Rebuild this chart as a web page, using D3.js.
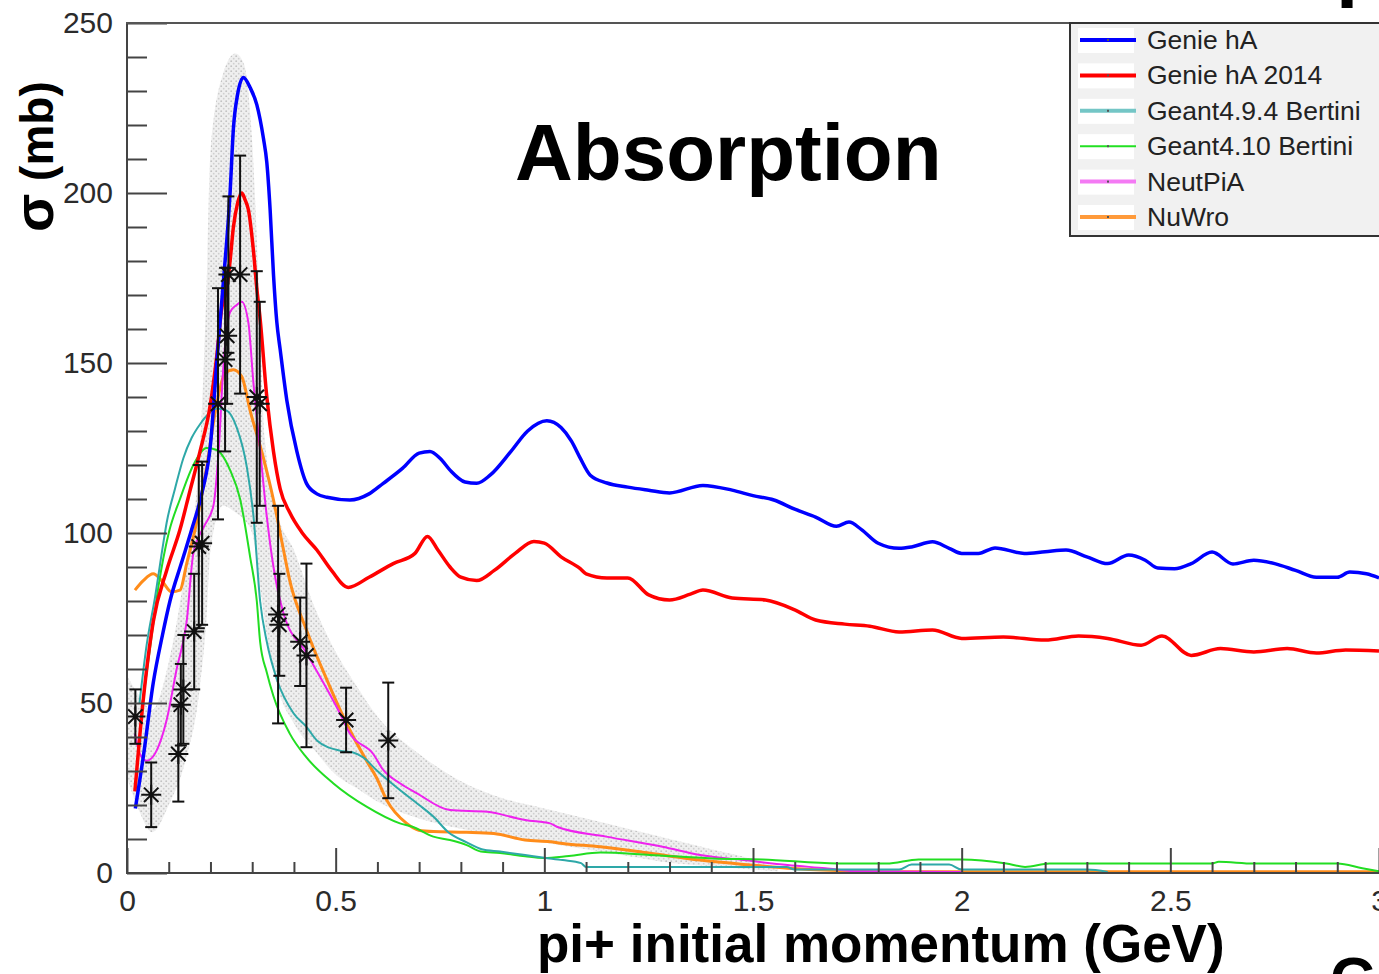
<!DOCTYPE html>
<html>
<head>
<meta charset="utf-8">
<script src="https://cdn.jsdelivr.net/npm/d3@7"></script>
<style>
  html, body { margin: 0; padding: 0; background: #fff; }
  svg { display: block; font-family: "Liberation Sans", Arial, Helvetica, sans-serif; }
  .axis path, .axis line { stroke: #444; stroke-width: 2; fill: none; }
  .axis text { fill: #2b2b2b; font-size: 30px; }
</style>
</head>
<body>
<svg id="chart" width="1379" height="974"></svg>
<script>
// pi+ absorption cross section vs momentum, model curves + data with errors

var xTicks = [0, 0.5, 1, 1.5, 2, 2.5, 3]
var yTicks = [0, 50, 100, 150, 200, 250]

var seriesNames = ['Genie hA', 'Genie hA 2014', 'Geant4.9.4 Bertini', 'Geant4.10 Bertini', 'NeutPiA', 'NuWro']

// [momentum GeV, sigma mb]
var genieHA = [[0.02, 19], [0.04, 35], [0.063, 56], [0.085, 70], [0.103, 80], [0.13, 91], [0.155, 101], [0.18, 112],
  [0.2, 126], [0.215, 150], [0.231, 174], [0.247, 200], [0.255, 219], [0.265, 229], [0.279, 234], [0.295, 231],
  [0.311, 226], [0.327, 216], [0.335, 209], [0.343, 195], [0.351, 176], [0.359, 162], [0.367, 154], [0.383, 139],
  [0.407, 124], [0.43, 114.6], [0.455, 111.5], [0.479, 110.5], [0.534, 109.7], [0.58, 111.5], [0.614, 114.6],
  [0.66, 119], [0.7, 123.5], [0.726, 124], [0.75, 122], [0.774, 118.5], [0.81, 115], [0.838, 114.6], [0.87, 117],
  [0.92, 124], [0.96, 130], [1.006, 133], [1.04, 131], [1.065, 127], [1.086, 122], [1.11, 117], [1.15, 114.7],
  [1.2, 113.5], [1.25, 112.6], [1.3, 111.8], [1.38, 114], [1.45, 112.6], [1.5, 111], [1.55, 109.7], [1.6, 107],
  [1.65, 104.7], [1.7, 102], [1.73, 103.2], [1.76, 101], [1.8, 97], [1.85, 95.5], [1.88, 95.9], [1.93, 97.4],
  [1.97, 95.5], [2.0, 94], [2.04, 94], [2.08, 95.6], [2.15, 94], [2.2, 94.5], [2.25, 95], [2.3, 93], [2.35, 91],
  [2.4, 93.5], [2.44, 92], [2.47, 89.7], [2.51, 89.5], [2.55, 91], [2.6, 94.4], [2.65, 90.9], [2.7, 92],
  [2.75, 91], [2.8, 89], [2.85, 87], [2.9, 87], [2.93, 88.5], [2.97, 88], [3.0, 86.8]]

var genieHA2014 = [[0.019, 24], [0.039, 51], [0.063, 74], [0.095, 89], [0.127, 101], [0.15, 112], [0.175, 124],
  [0.2, 138], [0.215, 152], [0.227, 166], [0.239, 172], [0.247, 180], [0.255, 190], [0.265, 197], [0.275, 200],
  [0.283, 198], [0.291, 195], [0.303, 183], [0.311, 172], [0.319, 163], [0.335, 140], [0.351, 124], [0.367, 113],
  [0.39, 106], [0.42, 100], [0.455, 95], [0.49, 89], [0.53, 84], [0.58, 87], [0.638, 91], [0.69, 94], [0.72, 99],
  [0.745, 95], [0.774, 90], [0.8, 87], [0.838, 86], [0.88, 89], [0.93, 94], [0.975, 97.5], [1.0, 97], [1.04, 93],
  [1.086, 89.5], [1.1, 88], [1.15, 86.8], [1.2, 86.8], [1.25, 81.8], [1.3, 80.3], [1.35, 82], [1.38, 83.2],
  [1.45, 80.9], [1.53, 80.3], [1.6, 77.4], [1.65, 74.4], [1.72, 73.2], [1.78, 72.6], [1.85, 70.9], [1.93, 71.5],
  [2.0, 69], [2.1, 69.4], [2.2, 68.5], [2.28, 69.7], [2.35, 69], [2.43, 67], [2.48, 69.7], [2.55, 64], [2.62, 66],
  [2.7, 65], [2.78, 66], [2.85, 64.7], [2.92, 65.6], [3.0, 65.3]]

var geant494 = [[0.03, 50], [0.047, 67], [0.067, 81], [0.087, 97], [0.095, 103], [0.115, 113], [0.135, 122],
  [0.155, 128], [0.175, 132], [0.195, 135], [0.215, 136.6], [0.239, 136], [0.263, 131], [0.287, 119.5],
  [0.303, 105], [0.319, 80], [0.335, 68], [0.359, 57], [0.399, 47], [0.43, 43], [0.455, 39], [0.51, 36],
  [0.54, 35.5], [0.566, 34], [0.6, 30], [0.654, 24.4], [0.7, 20], [0.734, 16.6], [0.77, 12], [0.814, 9],
  [0.85, 7], [0.894, 6.3], [0.954, 5.3], [1.0, 4.5], [1.044, 3.8], [1.088, 2.9], [1.1, 1.8], [1.58, 1.8],
  [1.6, 1], [1.85, 1], [1.88, 2.5], [1.97, 2.5], [2.0, 1], [2.3, 1], [2.35, 0.3]]

var geant410 = [[0.035, 48], [0.055, 66], [0.075, 84], [0.1, 100], [0.127, 110], [0.159, 120], [0.191, 125],
  [0.215, 124.4], [0.247, 118.5], [0.271, 110], [0.295, 93], [0.311, 80], [0.319, 68], [0.335, 59], [0.351, 52],
  [0.39, 41], [0.43, 34], [0.494, 26.4], [0.574, 19.5], [0.654, 14.6], [0.684, 13.6], [0.734, 10.7], [0.774, 9.7],
  [0.814, 8.2], [0.848, 6.3], [0.894, 5.9], [0.954, 4.9], [0.999, 4.4], [1.059, 5], [1.134, 6], [1.253, 5.3],
  [1.403, 4.3], [1.523, 4], [1.703, 2.8], [1.82, 2.8], [1.897, 4], [2.0, 4], [2.107, 2.8], [2.152, 1.8],
  [2.21, 2.8], [2.6, 2.8], [2.616, 3.3], [2.7, 2.8], [2.9, 2.8], [2.96, 1.4], [3.0, 0.5]]

var neutPiA = [[0.019, 41], [0.031, 35], [0.047, 33], [0.071, 36], [0.095, 45], [0.119, 60], [0.143, 74],
  [0.159, 94], [0.185, 102], [0.207, 108], [0.22, 125], [0.231, 149], [0.247, 165], [0.262, 167], [0.275, 168],
  [0.291, 161.7], [0.303, 144], [0.319, 124.4], [0.335, 104.8], [0.351, 90], [0.375, 76.4], [0.43, 64.7],
  [0.51, 47], [0.534, 41], [0.59, 35], [0.614, 30.3], [0.654, 26.4], [0.694, 23.5], [0.774, 18.5], [0.864, 18],
  [0.934, 16.1], [0.954, 15.6], [1.014, 14.6], [1.03, 13.6], [1.148, 10.7], [1.283, 7.7], [1.373, 5.3],
  [1.478, 3.8], [1.583, 2.35], [1.673, 1.4], [1.75, 0.5], [2.0, 0.3]]

var nuWro = [[0.019, 83.2], [0.039, 86], [0.063, 88], [0.083, 86], [0.107, 82.7], [0.127, 83.2], [0.143, 91],
  [0.163, 101], [0.191, 119.5], [0.215, 138], [0.235, 147], [0.255, 148], [0.275, 146], [0.295, 136],
  [0.327, 122], [0.351, 109.7], [0.375, 95], [0.39, 86], [0.43, 71.5], [0.479, 56.8], [0.522, 45], [0.574, 33],
  [0.598, 28], [0.622, 21.5], [0.67, 14.6], [0.699, 12.6], [0.734, 12.2], [0.814, 12], [0.879, 11.6],
  [0.954, 9.7], [1.014, 9.2], [1.044, 8.7], [1.134, 7.7], [1.253, 5.8], [1.373, 3.8], [1.493, 2.35],
  [1.583, 1.4], [1.703, 0.7], [1.8, 0.4], [3.0, 0.4]]

// measured points: momentum, sigma, error
var dataP = [0.02, 0.058, 0.123, 0.129, 0.135, 0.161, 0.172, 0.18, 0.218, 0.235, 0.24, 0.243, 0.271, 0.311, 0.318, 0.362, 0.365, 0.415, 0.43, 0.525, 0.626]
var dataSigma = [46, 23, 35, 49.5, 54, 71, 96, 97, 138, 151, 158, 176, 176, 140, 138, 76, 73, 68, 64, 45, 39]
var dataErr = [8, 9.5, 14, 12, 16, 17, 24, 24, 34, 27, 20, 23, 35, 37, 30, 32, 15, 13, 27, 9.5, 17]

// grey uncertainty band around the data
var bandP = [0.0, 0.03, 0.06, 0.1, 0.14, 0.175, 0.19, 0.2, 0.23, 0.26, 0.28, 0.3, 0.315, 0.33, 0.36, 0.4, 0.45, 0.5, 0.55, 0.6, 0.7, 0.8, 0.9, 1.0, 1.1, 1.2, 1.3, 1.4, 1.5, 1.56]
var bandHigh = [58, 52, 48, 62, 90, 125, 170, 212, 235, 241, 238, 215, 175, 128, 106, 95, 78, 65, 55, 46, 35, 27, 22, 19, 16, 13, 10, 7, 4, 1.5]
var bandLow = [28, 18, 12, 20, 33, 55, 74, 95, 108, 106, 104, 100, 88, 74, 55, 44, 36, 29, 25, 21, 16, 13, 11, 9, 7, 5, 3, 2, 1, 0.5]

var series = [genieHA, genieHA2014, geant494, geant410, neutPiA, nuWro]
var colors = ['#0000ff', '#ff0000', '#2ea8a8', '#22dd22', '#ee22ee', '#ff8c1a']
var widths = [3.5, 3.5, 2, 2, 2, 3]
var legendColors = ['#0000ff', '#ff0000', '#74c6c6', '#22e022', '#f47af4', '#ff9a3a']
var legendWidths = [4, 4, 4, 2, 4, 4]

// ROOT style "*" marker: horizontal, vertical and two diagonal strokes
var rootStar = {
  draw: function (context, size) {
    var r = Math.sqrt(size) / 2
    var d = r * 0.72
    context.moveTo(-r, 0); context.lineTo(r, 0)
    context.moveTo(0, -r); context.lineTo(0, r)
    context.moveTo(-d, -d); context.lineTo(d, d)
    context.moveTo(-d, d); context.lineTo(d, -d)
  }
}

function drawChart () {
  var svg = d3.select('#chart')
  var frame = { left: 127, right: 1379, top: 23, bottom: 873 }

  var x = d3.scaleLinear().domain([0, 3]).range([frame.left, frame.right])
  var y = d3.scaleLinear().domain([0, 250]).range([frame.bottom, frame.top])

  var defs = svg.append('defs')
  defs.append('clipPath').attr('id', 'plot')
    .append('rect').attr('x', frame.left).attr('y', frame.top)
    .attr('width', frame.right - frame.left).attr('height', frame.bottom - frame.top)
  var pat = defs.append('pattern').attr('id', 'stipple')
    .attr('patternUnits', 'userSpaceOnUse').attr('width', 5).attr('height', 5)
  pat.append('rect').attr('width', 5).attr('height', 5).attr('fill', '#efefef')
  pat.append('circle').attr('cx', 1.2).attr('cy', 1.2).attr('r', 0.9).attr('fill', '#c2c2c2')
  pat.append('circle').attr('cx', 3.7).attr('cy', 3.7).attr('r', 0.9).attr('fill', '#cfcfcf')

  var plot = svg.append('g').attr('clip-path', 'url(#plot)')

  // band
  var band = d3.area()
    .x(function (d, i) { return x(bandP[i]) })
    .y0(function (d, i) { return y(bandLow[i]) })
    .y1(function (d, i) { return y(bandHigh[i]) })
    .curve(d3.curveMonotoneX)
  plot.append('path').datum(bandP).attr('d', band).attr('fill', 'url(#stipple)')

  // model curves
  var line = d3.line()
    .x(function (d) { return x(d[0]) })
    .y(function (d) { return y(d[1]) })
    .curve(d3.curveMonotoneX)

  // reverse order so the Genie curves end up on top
  for (var i = series.length - 1; i >= 0; i--) {
    plot.append('path')
      .datum(series[i])
      .attr('d', line)
      .attr('fill', 'none')
      .attr('stroke', colors[i])
      .attr('stroke-width', widths[i])
      .attr('stroke-linejoin', 'round')
  }

  // data with error bars
  var pts = plot.append('g').selectAll('g')
    .data(dataP.map(function (p, i) { return { p: p, s: dataSigma[i], e: dataErr[i] } }))
    .enter().append('g')
  pts.append('line')
    .attr('x1', function (d) { return x(d.p) }).attr('x2', function (d) { return x(d.p) })
    .attr('y1', function (d) { return y(d.s - d.e) }).attr('y2', function (d) { return y(d.s + d.e) })
    .attr('stroke', '#111').attr('stroke-width', 2)
  pts.selectAll('.cap')
    .data(function (d) { return [d.s - d.e, d.s + d.e].map(function (v) { return { p: d.p, v: v } }) })
    .enter().append('line')
    .attr('class', 'cap')
    .attr('x1', function (d) { return x(d.p) - 6 }).attr('x2', function (d) { return x(d.p) + 6 })
    .attr('y1', function (d) { return y(d.v) }).attr('y2', function (d) { return y(d.v) })
    .attr('stroke', '#111').attr('stroke-width', 2)
  pts.append('path')
    .attr('transform', function (d) { return 'translate(' + x(d.p) + ',' + y(d.s) + ')' })
    .attr('d', d3.symbol().type(rootStar).size(400))
    .attr('fill', 'none').attr('stroke', '#111').attr('stroke-width', 2)

  // axes
  var xAxis = d3.axisBottom(x).tickValues(xTicks).tickSize(-25).tickPadding(12)
    .tickFormat(function (d) { return String(d) })
  var gx = svg.append('g').attr('class', 'axis').attr('transform', 'translate(0,' + frame.bottom + ')').call(xAxis)
  gx.select('.domain').attr('d', 'M' + (frame.left - 1) + ',0H' + frame.right)
  gx.selectAll('text').attr('dy', '0.85em')
  svg.append('g').attr('class', 'axis').attr('transform', 'translate(0,' + frame.bottom + ')')
    .call(d3.axisBottom(x).tickValues(d3.range(0, 30).map(function (k) { return k / 10 })
      .filter(function (v) { return Math.round(v * 10) % 5 !== 0 })).tickSize(-11).tickFormat(''))
    .select('.domain').remove()

  var yAxis = d3.axisLeft(y).tickValues(yTicks).tickSize(-40).tickPadding(14)
  var gy = svg.append('g').attr('class', 'axis').attr('transform', 'translate(' + frame.left + ',0)').call(yAxis)
  gy.select('.domain').attr('d', 'M0,' + (frame.bottom + 1) + 'V' + frame.top)
  svg.append('g').attr('class', 'axis').attr('transform', 'translate(' + frame.left + ',0)')
    .call(d3.axisLeft(y).tickValues(d3.range(0, 250, 10).filter(function (v) { return v % 50 !== 0 }))
      .tickSize(-20).tickFormat(''))
    .select('.domain').remove()

  // top frame line
  svg.append('line').attr('x1', frame.left - 1).attr('x2', frame.right).attr('y1', frame.top).attr('y2', frame.top)
    .attr('stroke', '#555').attr('stroke-width', 2)

  // titles
  svg.append('text')
    .attr('x', 515).attr('y', 180)
    .attr('font-size', 80).attr('font-weight', 'bold').attr('fill', '#000')
    .text('Absorption')

  svg.append('text')
    .attr('x', 537).attr('y', 962)
    .attr('font-size', 53).attr('font-weight', 'bold').attr('fill', '#000')
    .text('pi+ initial momentum (GeV)')

  var yTitle = svg.append('text')
    .attr('transform', 'translate(53,232) rotate(-90)')
    .attr('font-weight', 'bold').attr('fill', '#000')
  yTitle.append('tspan').attr('font-size', 56).text('σ')
  yTitle.append('tspan').attr('font-size', 46).text(' (mb)')

  // cut-off bits of neighbouring slide text at the picture edges
  svg.append('text').attr('x', 1336).attr('y', -9)
    .attr('font-size', 80).attr('font-weight', 'bold').text('p')
  svg.append('text').attr('x', 1330).attr('y', 1000)
    .attr('font-size', 62).attr('font-weight', 'bold').text('C')

  // legend
  var lg = svg.append('g').attr('transform', 'translate(1070,23)')
  lg.append('rect').attr('x', 0).attr('y', 0).attr('width', 330).attr('height', 213)
    .attr('fill', '#f1f1f1').attr('stroke', '#333').attr('stroke-width', 2)
  var rows = lg.selectAll('.row').data(seriesNames).enter().append('g')
    .attr('class', 'row')
    .attr('transform', function (d, i) { return 'translate(0,' + (17 + i * 35.4) + ')' })
  rows.append('rect').attr('x', 8).attr('y', -12).attr('width', 56).attr('height', 25).attr('fill', '#fff')
  rows.append('line').attr('x1', 10).attr('x2', 66).attr('y1', 0).attr('y2', 0)
    .attr('stroke', function (d, i) { return legendColors[i] })
    .attr('stroke-width', function (d, i) { return legendWidths[i] })
  rows.append('rect').attr('x', 37).attr('y', -1).attr('width', 2).attr('height', 2).attr('fill', '#555')
  rows.append('text').attr('x', 77).attr('y', 9)
    .attr('font-size', 26.5).attr('fill', '#222')
    .text(function (d) { return d })
}

drawChart()
</script>
</body>
</html>
